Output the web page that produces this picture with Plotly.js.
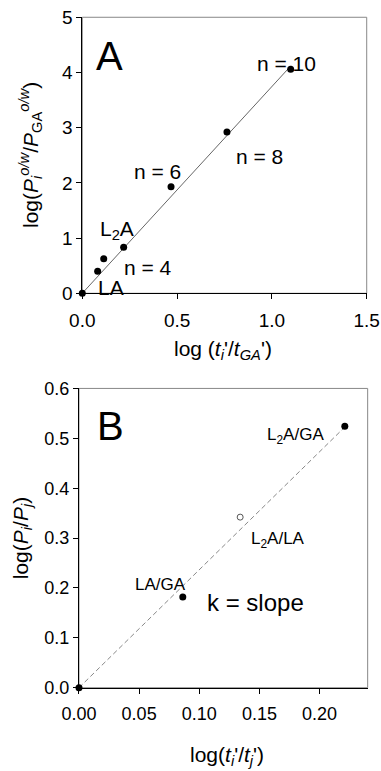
<!DOCTYPE html>
<html><head><meta charset="utf-8">
<script src="https://cdn.plot.ly/plotly-3.0.1.min.js"></script>
<style>html,body{margin:0;padding:0;background:#fff}</style></head>
<body><div id="chart" style="width:381px;height:771px"></div>
<script>
// Panel A data
const aX = [0, 0.081, 0.113, 0.218, 0.468, 0.763, 1.099];
const aY = [0, 0.40, 0.627, 0.833, 1.93, 2.92, 4.06];
const aFitX = [0, 1.10];
const aFitY = [0, 4.12];
// Panel B data
const bFilledX = [0, 0.0863, 0.221];
const bFilledY = [0, 0.182, 0.524];
const bOpenX = [0.134];
const bOpenY = [0.342];
const bFitX = [0, 0.222];
const bFitY = [0, 0.525];
// Tick labels
const aXTicks = [0, 0.5, 1.0, 1.5];
const aXTickText = ["0.0", "0.5", "1.0", "1.5"];
const aYTicks = [0, 1, 2, 3, 4, 5];
const aYTickText = ["0", "1", "2", "3", "4", "5"];
const bXTicks = [0, 0.05, 0.10, 0.15, 0.20];
const bXTickText = ["0.00", "0.05", "0.10", "0.15", "0.20"];
const bYTicks = [0, 0.1, 0.2, 0.3, 0.4, 0.5, 0.6];
const bYTickText = ["0.0", "0.1", "0.2", "0.3", "0.4", "0.5", "0.6"];

const FONT = "Liberation Sans, Arial, Helvetica, sans-serif";

const traces = [
  {x: aFitX, y: aFitY, xaxis: 'x', yaxis: 'y', mode: 'lines', line: {color: '#666', width: 1}, hoverinfo: 'skip'},
  {x: aX, y: aY, xaxis: 'x', yaxis: 'y', mode: 'markers', marker: {color: '#000', size: 7}, cliponaxis: false},
  {x: bFitX, y: bFitY, xaxis: 'x2', yaxis: 'y2', mode: 'lines', line: {color: '#888', width: 1, dash: '5px,3px'}, hoverinfo: 'skip'},
  {x: bFilledX, y: bFilledY, xaxis: 'x2', yaxis: 'y2', mode: 'markers', marker: {color: '#000', size: 7}, cliponaxis: false},
  {x: bOpenX, y: bOpenY, xaxis: 'x2', yaxis: 'y2', mode: 'markers', marker: {color: '#fff', size: 6, line: {color: '#555', width: 1}}, cliponaxis: false}
];

function axisBase(extra) {
  return Object.assign({
    showline: true, linecolor: '#000', linewidth: 1,
    showgrid: false, zeroline: false,
    ticks: 'outside', ticklen: 5, tickwidth: 1, tickcolor: '#000',
    tickmode: 'array', fixedrange: true
  }, extra);
}

const layout = {
  width: 381, height: 771,
  margin: {l: 0, r: 0, t: 0, b: 0},
  paper_bgcolor: '#fff', plot_bgcolor: 'rgba(0,0,0,0)',
  showlegend: false,
  font: {family: FONT, color: '#000'},
  xaxis: axisBase({domain: [0.216, 0.9625], range: [0, 1.5], anchor: 'y',
    tickvals: aXTicks, ticktext: aXTickText, tickfont: {size: 19}, ticklabelstandoff: 5}),
  yaxis: axisBase({domain: [0.6196, 0.9776], range: [0, 5], anchor: 'x',
    tickvals: aYTicks, ticktext: aYTickText, tickfont: {size: 19}}),
  xaxis2: axisBase({domain: [0.2073, 0.965], range: [0, 0.24], anchor: 'y2',
    tickvals: bXTicks, ticktext: bXTickText, tickfont: {size: 18}, ticklabelstandoff: 5}),
  yaxis2: axisBase({domain: [0.108, 0.4962], range: [0, 0.6], anchor: 'x2',
    tickvals: bYTicks, ticktext: bYTickText, tickfont: {size: 18}}),
  shapes: [
    {type: 'rect', xref: 'x domain', yref: 'y domain', x0: 0, x1: 1, y0: 0, y1: 1, line: {color: '#888', width: 1}, layer: 'below'},
    {type: 'rect', xref: 'x2 domain', yref: 'y2 domain', x0: 0, x1: 1, y0: 0, y1: 1, line: {color: '#888', width: 1}, layer: 'below'}
  ],
  annotations: [
    // Axis titles
    {xref: 'paper', yref: 'paper', x: 0.0814, y: 0.799, textangle: -90, showarrow: false, xanchor: 'center', yanchor: 'middle',
      text: "log(<i>P<sub>i</sub><sup>o/w</sup></i>/<i>P</i><sub>GA</sub><sup><i>o/w</i></sup>)", font: {size: 21}},
    {xref: 'paper', yref: 'paper', x: 0.585, y: 0.546, showarrow: false, xanchor: 'center', yanchor: 'middle',
      text: "log (<i>t<sub>i</sub></i>'/<i>t<sub>GA</sub></i>')", font: {size: 21}},
    {xref: 'paper', yref: 'paper', x: 0.058, y: 0.302, textangle: -90, showarrow: false, xanchor: 'center', yanchor: 'middle',
      text: "log(<i>P<sub>i</sub></i>/<i>P<sub>j</sub></i>)", font: {size: 21}},
    {xref: 'paper', yref: 'paper', x: 0.595, y: 0.019, showarrow: false, xanchor: 'center', yanchor: 'middle',
      text: "log(<i>t<sub>i</sub></i>'/<i>t<sub>j</sub></i>')", font: {size: 21}},
    // Panel A labels
    {xref: 'x', yref: 'y', x: 0.146, y: 4.30, text: 'A', showarrow: false, font: {size: 40}},
    {xref: 'x', yref: 'y', x: 1.075, y: 4.17, text: 'n = 10', showarrow: false, font: {size: 21}},
    {xref: 'x', yref: 'y', x: 0.932, y: 2.47, text: 'n = 8', showarrow: false, font: {size: 21}},
    {xref: 'x', yref: 'y', x: 0.394, y: 2.20, text: 'n = 6', showarrow: false, font: {size: 21}},
    {xref: 'x', yref: 'y', x: 0.183, y: 1.14, text: 'L<sub>2</sub>A', showarrow: false, font: {size: 21}},
    {xref: 'x', yref: 'y', x: 0.349, y: 0.46, text: 'n = 4', showarrow: false, font: {size: 21}},
    {xref: 'x', yref: 'y', x: 0.154, y: 0.11, text: 'LA', showarrow: false, font: {size: 21}},
    // Panel B labels
    {xref: 'x2', yref: 'y2', x: 0.0262, y: 0.525, text: 'B', showarrow: false, font: {size: 40}},
    {xref: 'x2', yref: 'y2', x: 0.180, y: 0.505, text: 'L<sub>2</sub>A/GA', showarrow: false, font: {size: 17}},
    {xref: 'x2', yref: 'y2', x: 0.1656, y: 0.296, text: 'L<sub>2</sub>A/LA', showarrow: false, font: {size: 17}},
    {xref: 'x2', yref: 'y2', x: 0.0678, y: 0.206, text: 'LA/GA', showarrow: false, font: {size: 17}},
    {xref: 'x2', yref: 'y2', x: 0.1465, y: 0.170, text: 'k = slope', showarrow: false, font: {size: 24}}
  ]
};

Plotly.newPlot('chart', traces, layout, {displayModeBar: false});
</script></body></html>
